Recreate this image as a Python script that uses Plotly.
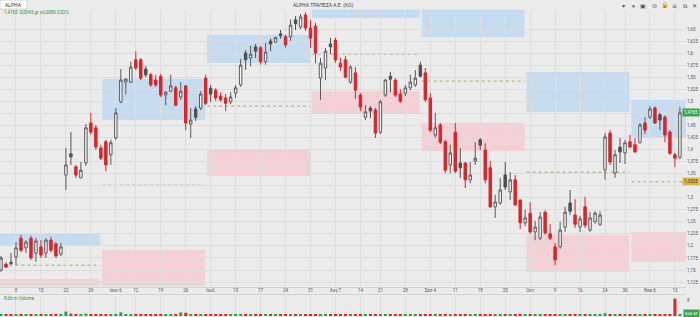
import plotly.graph_objects as go
import pandas as pd

# ---------------- data ----------------
skip_days = ["2023-06-05", "2023-08-15", "2023-10-23"]
dates = [d for d in pd.bdate_range("2023-05-03", "2023-11-14")
         if d.strftime("%Y-%m-%d") not in skip_days]

opens = [1.150, 1.162, 1.166, 1.177, 1.216, 1.196, 1.216, 1.185, 1.198, 1.185,
         1.212, 1.204, 1.183, 1.347, 1.391, 1.364, 1.341, 1.372, 1.455, 1.445,
         1.403, 1.416, 1.389, 1.424, 1.499, 1.540, 1.540, 1.586, 1.586, 1.567,
         1.555, 1.544, 1.552, 1.513, 1.521, 1.528, 1.509, 1.532, 1.453, 1.484,
         1.486, 1.548, 1.527, 1.523, 1.511, 1.507, 1.499, 1.517, 1.534, 1.600,
         1.590, 1.613, 1.611, 1.582, 1.625, 1.623, 1.640, 1.634, 1.634, 1.669,
         1.654, 1.679, 1.652, 1.656, 1.548, 1.569, 1.619, 1.627, 1.579, 1.586,
         1.540, 1.559, 1.513, 1.467, 1.486, 1.482, 1.436, 1.513, 1.552, 1.544,
         1.515, 1.517, 1.528, 1.534, 1.575, 1.559, 1.507, 1.430, 1.451, 1.416,
         1.368, 1.436, 1.372, 1.372, 1.337, 1.376, 1.420, 1.399, 1.362, 1.281,
         1.289, 1.347, 1.312, 1.337, 1.295, 1.248, 1.268, 1.229, 1.216, 1.270,
         1.225, 1.198, 1.198, 1.239, 1.289, 1.264, 1.239, 1.281, 1.233, 1.250,
         1.245, 1.358, 1.434, 1.351, 1.405, 1.393, 1.416, 1.410, 1.415, 1.455,
         1.467, 1.486, 1.472, 1.467, 1.436, 1.389, 1.384]
highs = [1.179, 1.166, 1.185, 1.208, 1.223, 1.212, 1.221, 1.216, 1.212, 1.216,
         1.219, 1.208, 1.206, 1.403, 1.436, 1.368, 1.374, 1.453, 1.476, 1.451,
         1.410, 1.420, 1.420, 1.486, 1.567, 1.548, 1.582, 1.604, 1.590, 1.573,
         1.559, 1.555, 1.557, 1.521, 1.555, 1.532, 1.540, 1.534, 1.486, 1.490,
         1.521, 1.555, 1.534, 1.527, 1.519, 1.515, 1.519, 1.534, 1.588, 1.606,
         1.615, 1.619, 1.615, 1.621, 1.630, 1.634, 1.648, 1.638, 1.670, 1.677,
         1.681, 1.685, 1.669, 1.663, 1.590, 1.611, 1.632, 1.632, 1.590, 1.594,
         1.575, 1.571, 1.517, 1.492, 1.490, 1.486, 1.503, 1.546, 1.561, 1.548,
         1.525, 1.534, 1.555, 1.565, 1.582, 1.569, 1.517, 1.476, 1.455, 1.420,
         1.410, 1.455, 1.403, 1.374, 1.374, 1.415, 1.424, 1.413, 1.376, 1.306,
         1.341, 1.374, 1.353, 1.347, 1.297, 1.275, 1.291, 1.252, 1.270, 1.274,
         1.245, 1.206, 1.250, 1.281, 1.316, 1.297, 1.262, 1.302, 1.270, 1.272,
         1.272, 1.434, 1.440, 1.399, 1.424, 1.420, 1.430, 1.424, 1.455, 1.467,
         1.490, 1.490, 1.476, 1.471, 1.440, 1.393, 1.488]
lows = [1.146, 1.154, 1.160, 1.160, 1.187, 1.185, 1.171, 1.167, 1.175, 1.175,
        1.187, 1.175, 1.179, 1.316, 1.368, 1.341, 1.341, 1.366, 1.430, 1.399,
        1.378, 1.355, 1.368, 1.420, 1.496, 1.514, 1.538, 1.565, 1.544, 1.550,
        1.530, 1.530, 1.509, 1.492, 1.519, 1.490, 1.503, 1.440, 1.424, 1.459,
        1.482, 1.492, 1.499, 1.501, 1.499, 1.480, 1.494, 1.507, 1.530, 1.565,
        1.573, 1.590, 1.576, 1.576, 1.604, 1.621, 1.630, 1.611, 1.625, 1.648,
        1.650, 1.646, 1.611, 1.579, 1.503, 1.544, 1.598, 1.580, 1.563, 1.548,
        1.536, 1.505, 1.480, 1.461, 1.465, 1.424, 1.432, 1.509, 1.519, 1.509,
        1.497, 1.511, 1.523, 1.530, 1.550, 1.499, 1.436, 1.424, 1.411, 1.351,
        1.351, 1.351, 1.341, 1.320, 1.330, 1.368, 1.399, 1.330, 1.279, 1.258,
        1.285, 1.316, 1.295, 1.283, 1.235, 1.241, 1.225, 1.212, 1.212, 1.223,
        1.212, 1.160, 1.194, 1.229, 1.264, 1.237, 1.229, 1.237, 1.229, 1.246,
        1.241, 1.337, 1.368, 1.341, 1.372, 1.370, 1.403, 1.393, 1.412, 1.432,
        1.463, 1.453, 1.440, 1.415, 1.389, 1.364, 1.380]
closes = [1.175, 1.156, 1.164, 1.196, 1.191, 1.208, 1.175, 1.210, 1.181, 1.212,
          1.191, 1.179, 1.198, 1.368, 1.385, 1.347, 1.357, 1.445, 1.436, 1.405,
          1.382, 1.368, 1.414, 1.476, 1.544, 1.546, 1.571, 1.569, 1.548, 1.555,
          1.534, 1.534, 1.513, 1.519, 1.532, 1.492, 1.521, 1.455, 1.461, 1.467,
          1.515, 1.496, 1.515, 1.507, 1.503, 1.496, 1.509, 1.528, 1.575, 1.586,
          1.598, 1.604, 1.582, 1.602, 1.619, 1.632, 1.636, 1.617, 1.658, 1.661,
          1.675, 1.652, 1.631, 1.600, 1.579, 1.604, 1.613, 1.586, 1.571, 1.550,
          1.571, 1.523, 1.488, 1.478, 1.480, 1.434, 1.499, 1.544, 1.546, 1.513,
          1.500, 1.528, 1.540, 1.548, 1.552, 1.503, 1.440, 1.445, 1.415, 1.357,
          1.393, 1.355, 1.362, 1.337, 1.347, 1.382, 1.409, 1.337, 1.281, 1.291,
          1.316, 1.322, 1.337, 1.285, 1.248, 1.258, 1.229, 1.239, 1.260, 1.227,
          1.216, 1.171, 1.233, 1.270, 1.272, 1.245, 1.256, 1.243, 1.258, 1.268,
          1.264, 1.426, 1.374, 1.389, 1.395, 1.414, 1.405, 1.395, 1.451, 1.440,
          1.484, 1.455, 1.461, 1.430, 1.392, 1.382, 1.476]
volumes = [0.8, 0.7, 0.7, 0.9, 0.8, 0.7, 0.9, 0.8, 0.7, 0.8,
           0.7, 0.8, 0.7, 2.2, 1.2, 1.0, 0.9, 1.2, 1.0, 0.9,
           0.9, 1.0, 0.8, 1.0, 1.8, 1.0, 0.9, 0.9, 0.9, 0.8,
           0.8, 0.7, 0.8, 0.7, 0.7, 0.8, 1.8, 1.6, 0.9, 0.8,
           0.8, 0.9, 0.8, 0.7, 0.7, 0.7, 0.7, 0.8, 0.9, 0.8,
           0.8, 0.7, 0.8, 0.8, 0.7, 0.7, 0.7, 0.8, 0.9, 0.8,
           0.8, 0.8, 0.8, 0.9, 1.0, 0.9, 0.7, 0.8, 0.7, 0.8,
           0.7, 0.8, 0.8, 0.7, 0.7, 0.8, 0.8, 0.8, 0.7, 0.7,
           0.6, 0.7, 0.7, 0.7, 0.8, 0.8, 0.9, 0.8, 0.8, 0.9,
           0.8, 0.8, 0.7, 0.8, 0.7, 0.7, 0.7, 0.8, 0.9, 0.8,
           0.8, 0.7, 0.7, 0.8, 0.8, 0.7, 0.8, 0.7, 0.8, 0.7,
           0.7, 0.9, 0.8, 0.8, 0.7, 0.7, 0.7, 0.7, 0.7, 0.7,
           0.7, 1.4, 1.0, 0.9, 0.8, 0.8, 0.7, 0.7, 0.8, 0.7,
           0.8, 0.8, 0.7, 0.8, 0.8, 8.66, 0.9]

# x-axis tick labels (weekly)
tick_dates = ["2023-05-08", "2023-05-15", "2023-05-22", "2023-05-29", "2023-06-06",
              "2023-06-12", "2023-06-19", "2023-06-26", "2023-07-03", "2023-07-10",
              "2023-07-17", "2023-07-24", "2023-07-31", "2023-08-07", "2023-08-14",
              "2023-08-21", "2023-08-28", "2023-09-04", "2023-09-11", "2023-09-18",
              "2023-09-25", "2023-10-02", "2023-10-09", "2023-10-16", "2023-10-24",
              "2023-10-30", "2023-11-06", "2023-11-13"]
tick_texts = ["8", "15", "22", "29", "Ιουν 6", "12", "19", "26", "Ιουλ", "10",
              "17", "24", "31", "Αυγ 7", "14", "21", "28", "Σεπ 4", "11", "18",
              "25", "Οκτ", "9", "16", "24", "30", "Νοε 6", "13"]
y_ticks = [1.125, 1.15, 1.175, 1.2, 1.225, 1.25, 1.275, 1.3, 1.325, 1.35, 1.375,
           1.4, 1.425, 1.45, 1.475, 1.5, 1.525, 1.55, 1.575, 1.6, 1.625, 1.65]
y_tick_labels = ["1,125", "1,15", "1,175", "1,2", "1,225", "1,25", "1,275", "1,3", "", "1,35",
                 "1,375", "1,4", "1,425", "1,45", "", "1,5", "1,525", "1,55", "1,575", "1,6",
                 "1,625", "1,65"]

# monthly zones
zone_months = ["2023-05", "2023-06", "2023-07", "2023-08", "2023-09", "2023-10", "2023-11"]
blue_low = [1.2019, 1.4612, 1.5795, 1.6728, 1.6334, 1.4778, 1.4259]
blue_high = [1.2268, 1.5463, 1.6376, 1.7500, 1.7500, 1.5608, 1.5027]
pink_low = [1.1000, 1.1000, 1.3450, 1.4737, 1.3970, 1.1459, 1.1666]
pink_high = [1.1313, 1.1915, 1.3990, 1.5214, 1.4550, 1.2226, 1.2288]
mid_level = [1.160, 1.326, 1.490, 1.598, 1.542, 1.353, 1.333]

last_price = 1.4765
level_price = 1.3333

# ---------------- styling ----------------
BG = "#ebebeb"
GRID = "#dcdcdc"
RED = "#d7262d"
HOLLOW_LINE = "#5a5a5a"
HOLLOW_FILL = "#f6f6f6"
DARK = "#4f4f4f"
GREEN = "#2e9d48"
FONT = "Roboto"

n = len(dates)
xs = list(range(n))
date_str = [d.strftime("%Y-%m-%d") for d in dates]
XR = [-0.204, 137.22]

up_idx, red_idx, dark_idx = [], [], []
for i in xs:
    if closes[i] >= opens[i]:
        up_idx.append(i)
    elif i > 0 and closes[i] > closes[i - 1]:
        dark_idx.append(i)
    else:
        red_idx.append(i)

fig = go.Figure()


def add_candles(idx, line_c, fill_c):
    fig.add_trace(go.Candlestick(
        x=idx,
        open=[opens[i] for i in idx], high=[highs[i] for i in idx],
        low=[lows[i] for i in idx], close=[closes[i] for i in idx],
        increasing=dict(line=dict(color=line_c, width=1), fillcolor=fill_c),
        decreasing=dict(line=dict(color=line_c, width=1), fillcolor=fill_c),
        xaxis="x", yaxis="y", showlegend=False, hoverinfo="skip"))


add_candles(up_idx, HOLLOW_LINE, HOLLOW_FILL)
add_candles(red_idx, RED, RED)
add_candles(dark_idx, DARK, DARK)

vol_colors = [GREEN if closes[i] >= opens[i] else RED for i in xs]
fig.add_trace(go.Bar(x=xs, y=volumes, marker=dict(color=vol_colors, line=dict(width=0)),
                     width=0.6, xaxis="x2", yaxis="y2", showlegend=False, hoverinfo="skip"))

shapes = []
for k, m in enumerate(zone_months):
    idx = [i for i in xs if date_str[i].startswith(m)]
    x0 = idx[0] - 0.72
    x1 = idx[-1] - 0.12 if k < len(zone_months) - 1 else XR[1] + 1
    shapes.append(dict(type="rect", xref="x", yref="y", x0=x0, x1=x1,
                       y0=blue_low[k], y1=blue_high[k], fillcolor="#c5dbf0",
                       line=dict(width=0), layer="below"))
    shapes.append(dict(type="rect", xref="x", yref="y", x0=x0, x1=x1,
                       y0=pink_low[k], y1=pink_high[k], fillcolor="#f3d0d4",
                       line=dict(width=0), layer="below"))
    shapes.append(dict(type="line", xref="x", yref="y", x0=x0, x1=x1,
                       y0=mid_level[k], y1=mid_level[k],
                       line=dict(color="#b0a470", width=1, dash="dot"), layer="below"))

# pane separators
shapes.append(dict(type="line", xref="paper", yref="paper", x0=0, x1=1, y0=1 - 287.5 / 317,
                   y1=1 - 287.5 / 317, line=dict(color="#d2d2d2", width=1)))
shapes.append(dict(type="line", xref="paper", yref="paper", x0=0, x1=1, y0=1 - 294.5 / 317,
                   y1=1 - 294.5 / 317, line=dict(color="#d2d2d2", width=1)))
# top header box
shapes.append(dict(type="rect", xref="paper", yref="paper", x0=0, x1=27 / 686,
                   y0=1 - 9 / 317, y1=1, fillcolor="#ffffff", line=dict(color="#d0d0d0", width=1)))

tick_pos = [date_str.index(t) for t in tick_dates]

annotations = [
    dict(text="ALPHA", x=3 / 686, y=1 - 4.5 / 317, xref="paper", yref="paper",
         xanchor="left", yanchor="middle", showarrow=False,
         font=dict(family=FONT, size=5, color="#333")),
    dict(text="ALPHA ΤΡΑΠΕΖΑ Α.Ε. (ΚΟ)", x=323 / 686, y=1 - 5 / 317, xref="paper", yref="paper",
         xanchor="center", yanchor="middle", showarrow=False,
         font=dict(family=FONT, size=5, color="#444")),
    dict(text="1,4765 -0,0045 gr +0,0080 0,52%", x=2 / 686, y=1 - 13 / 317, xref="paper",
         yref="paper", xanchor="left", yanchor="middle", showarrow=False,
         font=dict(family=FONT, size=4.5, color="#3a8f3a")),
    dict(text="8,66 m Volume", x=2 / 686, y=1 - 298 / 317, xref="paper", yref="paper",
         xanchor="left", yanchor="middle", showarrow=False,
         font=dict(family=FONT, size=4.5, color="#3a8f3a")),
    dict(text=f"{last_price:.4f}".replace(".", ","), x=700 / 686, y=last_price, xref="paper",
         yref="y", xanchor="right", yanchor="middle", showarrow=False, bgcolor="#3fa34d",
         borderpad=1, font=dict(family=FONT, size=4.5, color="#ffffff")),
    dict(text=f"{level_price:.4f}".replace(".", ","), x=700 / 686, y=level_price, xref="paper",
         yref="y", xanchor="right", yanchor="middle", showarrow=False, bgcolor="#d8b84a",
         borderpad=1, font=dict(family=FONT, size=4.5, color="#333")),
    dict(text="8,66 M", x=700 / 686, y=1 - 313.5 / 317, xref="paper", yref="paper",
         xanchor="right", yanchor="middle", showarrow=False, bgcolor="#3fa34d",
         borderpad=1, font=dict(family=FONT, size=4, color="#ffffff")),
]
icons = [("▾", 623), ("⏸", 633), ("▣", 643), ("⊜", 654), ("🔒", 664), ("≡", 674), ("⧉", 685), ("✕", 694)]
for txt, px in icons:
    annotations.append(dict(text=txt, x=px / 686, y=1 - 5 / 317, xref="paper", yref="paper",
                            xanchor="center", yanchor="middle", showarrow=False,
                            font=dict(family="DejaVu Sans", size=6, color="#555")))

fig.update_layout(
    width=700, height=317, margin=dict(l=0, r=14, t=0, b=0),
    paper_bgcolor=BG, plot_bgcolor=BG,
    boxgap=0.3, boxgroupgap=0.3,
    shapes=shapes, annotations=annotations,
    xaxis=dict(domain=[0, 1], range=XR, anchor="y", tickvals=tick_pos, ticktext=tick_texts,
               showgrid=True, gridcolor=GRID, gridwidth=1, zeroline=False, showline=False,
               ticks="", tickfont=dict(family=FONT, size=4.5, color="#555"),
               rangeslider=dict(visible=False), fixedrange=True),
    yaxis=dict(domain=[1 - 286 / 317, 1 - 9.5 / 317], range=[1.1168, 1.6905], side="right",
               tickvals=y_ticks, ticktext=y_tick_labels,
               showgrid=True, gridcolor=GRID, zeroline=False, ticks="",
               tickfont=dict(family=FONT, size=4.5, color="#555"), anchor="x"),
    xaxis2=dict(domain=[0, 1], range=XR, anchor="y2", matches="x", showticklabels=False,
                showgrid=True, gridcolor=GRID, tickvals=tick_pos, zeroline=False, ticks=""),
    yaxis2=dict(domain=[1 / 317, 1 - 296 / 317], range=[0, 10], side="right", tickvals=[8],
                ticktext=["8"], showgrid=False, zeroline=False, ticks="",
                tickfont=dict(family=FONT, size=4.5, color="#555"), anchor="x2"),
)

fig.write_html("out.html")
